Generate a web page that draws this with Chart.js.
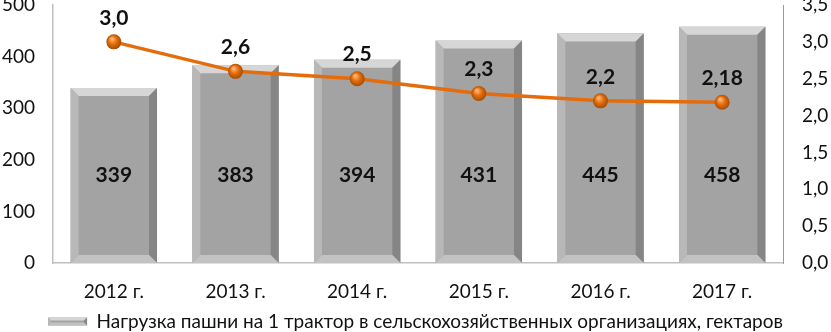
<!DOCTYPE html>
<html>
<head>
<meta charset="utf-8">
<script src="https://cdn.jsdelivr.net/npm/chart.js@4"></script>
<style>
  html, body { margin: 0; padding: 0; background: #fff; }
  #wrap { width: 831px; height: 332px; }
</style>
</head>
<body>
<div id="wrap"><canvas id="chart"></canvas></div>
<script>
// данные графика
const years = ['2012 г.', '2013 г.', '2014 г.', '2015 г.', '2016 г.', '2017 г.'];
const loadPerTractor = [339, 383, 394, 431, 445, 458];
const tractorLine = [3.0, 2.6, 2.5, 2.3, 2.2, 2.18];
const barLabel = 'Нагрузка пашни на 1 трактор в сельскохозяйственных организациях, гектаров';
const lineLabel = 'Ряд 2';

const FONT = 'Lato, "Open Sans", sans-serif';

function fmtComma(v) {
    const one = Math.round(v * 10) === v * 10;
    return v.toFixed(one ? 1 : 2).replace('.', ',');
}

// объёмные столбцы (фаска)
function drawBevel(ctx, x0, y0, x1, y1, b) {
    ctx.fillStyle = '#a3a3a3';
    ctx.fillRect(x0, y0, x1 - x0, y1 - y0);
    // верх
    ctx.fillStyle = '#d6d6d6';
    ctx.beginPath();
    ctx.moveTo(x0, y0); ctx.lineTo(x1, y0); ctx.lineTo(x1 - b, y0 + b); ctx.lineTo(x0 + b, y0 + b);
    ctx.closePath(); ctx.fill();
    // левая
    ctx.fillStyle = '#b8b8b8';
    ctx.beginPath();
    ctx.moveTo(x0, y0); ctx.lineTo(x0 + b, y0 + b); ctx.lineTo(x0 + b, y1 - b); ctx.lineTo(x0, y1);
    ctx.closePath(); ctx.fill();
    // правая
    ctx.fillStyle = '#858585';
    ctx.beginPath();
    ctx.moveTo(x1, y0); ctx.lineTo(x1 - b, y0 + b); ctx.lineTo(x1 - b, y1 - b); ctx.lineTo(x1, y1);
    ctx.closePath(); ctx.fill();
    // низ
    ctx.fillStyle = '#c2c2c2';
    ctx.beginPath();
    ctx.moveTo(x0, y1); ctx.lineTo(x0 + b, y1 - b); ctx.lineTo(x1 - b, y1 - b); ctx.lineTo(x1, y1);
    ctx.closePath(); ctx.fill();
}

const bevelBars = {
    id: 'bevelBars',
    afterDatasetDraw(chart, args) {
        if (args.index !== 0) return;
        const ctx = chart.ctx;
        ctx.save();
        args.meta.data.forEach(bar => {
            const x0 = bar.x - bar.width / 2, x1 = bar.x + bar.width / 2;
            drawBevel(ctx, x0, bar.y, x1, bar.base, 8);
        });
        ctx.restore();
    },
    afterDatasetsDraw(chart) {
        const ctx = chart.ctx;
        const yScale = chart.scales.y;
        ctx.save();
        // шарики на линии
        chart.getDatasetMeta(1).data.forEach(pt => {
            const g = ctx.createRadialGradient(pt.x - 2, pt.y - 3, 1, pt.x, pt.y, 8);
            g.addColorStop(0, '#ffb070');
            g.addColorStop(0.45, '#e46c0a');
            g.addColorStop(1, '#9c4a06');
            ctx.fillStyle = g;
            ctx.beginPath();
            ctx.arc(pt.x, pt.y, 7.5, 0, Math.PI * 2);
            ctx.fill();
        });
        ctx.textAlign = 'center';
        ctx.textBaseline = 'middle';
        ctx.fillStyle = '#111';
        ctx.font = 'bold 21px ' + FONT;
        chart.getDatasetMeta(0).data.forEach((bar, i) => {
            ctx.fillText(String(loadPerTractor[i]), bar.x, yScale.getPixelForValue(170));
        });
        chart.getDatasetMeta(1).data.forEach((pt, i) => {
            ctx.fillText(fmtComma(tractorLine[i]), pt.x, pt.y - 24);
        });
        ctx.restore();
    }
};

const legendBox = {
    id: 'legendBox',
    afterDraw(chart) {
        const item = chart.legend.legendHitBoxes[0];
        if (!item) return;
        const ctx = chart.ctx;
        const cy = item.top + item.height / 2;
        ctx.save();
        drawBevel(ctx, item.left, cy - 4, item.left + 39, cy + 4, 3);
        ctx.restore();
    }
};

const ctx = document.getElementById('chart').getContext('2d');
new Chart(ctx, {
    data: {
        labels: years,
        datasets: [{
            type: 'bar',
            label: barLabel,
            data: loadPerTractor,
            backgroundColor: 'rgba(0,0,0,0)',
            borderWidth: 0,
            categoryPercentage: 0.71,
            barPercentage: 1,
            yAxisID: 'y',
            order: 1
        }, {
            type: 'line',
            label: lineLabel,
            data: tractorLine,
            borderColor: '#e46c0a',
            borderWidth: 3.5,
            pointRadius: 0,
            tension: 0,
            yAxisID: 'y1',
            order: 0
        }]
    },
    options: {
        responsive: true,
        maintainAspectRatio: false,
        animation: false,
        layout: { padding: { top: 5, right: 0, left: 0, bottom: -9 } },
        plugins: {
            tooltip: { enabled: false },
            legend: {
                position: 'bottom',
                labels: {
                    boxWidth: 39,
                    boxHeight: 9,
                    padding: 4,
                    font: { family: FONT, size: 19 },
                    generateLabels: chart => [{
                        text: barLabel,
                        fillStyle: 'rgba(0,0,0,0)',
                        strokeStyle: 'rgba(0,0,0,0)',
                        lineWidth: 0,
                        datasetIndex: 0,
                        fontColor: '#111'
                    }]
                }
            }
        },
        scales: {
            x: {
                grid: { display: false, drawTicks: false },
                border: { color: '#bfbfbf', width: 1.5 },
                ticks: { color: '#111', font: { family: FONT, size: 19 }, padding: 17 },
                afterFit(s) { s.height = 45; }
            },
            y: {
                position: 'left',
                min: 0, max: 500,
                grid: { display: false, drawTicks: false },
                border: { color: '#bfbfbf', width: 1.5 },
                ticks: { stepSize: 100, color: '#111', font: { family: FONT, size: 19 }, padding: 18 },
                afterFit(s) { s.width = 53; s.paddingTop = 0; s.paddingBottom = 0; }
            },
            y1: {
                position: 'right',
                min: 0, max: 3.5,
                grid: { display: false, drawOnChartArea: false, tickLength: 7, color: '#9a9a9a' },
                border: { color: '#9a9a9a', width: 1 },
                ticks: {
                    stepSize: 0.5, color: '#111', font: { family: FONT, size: 19 }, padding: 12,
                    callback: v => v.toFixed(1).replace('.', ',')
                },
                afterFit(s) { s.width = 48; s.paddingTop = 0; s.paddingBottom = 0; }
            }
        }
    },
    plugins: [bevelBars, legendBox]
});
</script>
</body>
</html>
